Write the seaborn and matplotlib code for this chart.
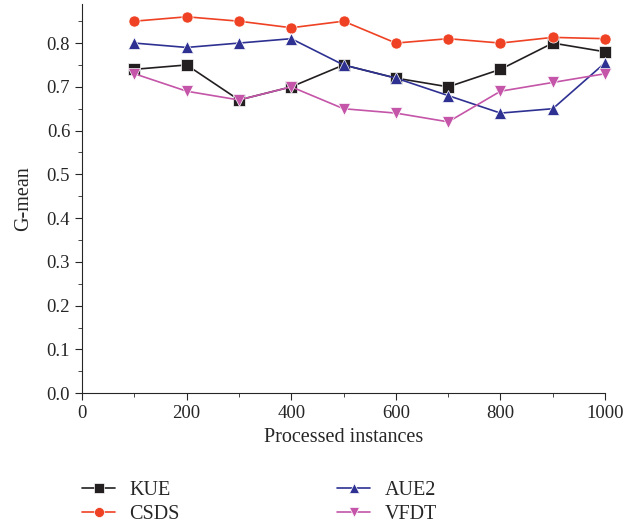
import pandas as pd
import seaborn as sns
import matplotlib.pyplot as plt

# Datos
instancias = [100, 200, 300, 400, 500, 600, 700, 800, 900, 1000]
kue = [0.74, 0.75, 0.67, 0.70, 0.75, 0.72, 0.70, 0.74, 0.80, 0.78]
csds = [0.85, 0.86, 0.85, 0.835, 0.85, 0.80, 0.81, 0.80, 0.813, 0.81]
aue2 = [0.80, 0.79, 0.80, 0.81, 0.75, 0.72, 0.68, 0.64, 0.65, 0.755]
vfdt = [0.73, 0.69, 0.67, 0.70, 0.65, 0.64, 0.62, 0.69, 0.71, 0.73]
metodos = ['KUE', 'CSDS', 'AUE2', 'VFDT']

df = pd.DataFrame({
    'Processed instances': instancias * 4,
    'G-mean': kue + csds + aue2 + vfdt,
    'Metodo': [m for m in metodos for _ in instancias],
})

sns.set_style("ticks")
plt.rcParams['font.family'] = ['Liberation Serif', 'DejaVu Serif']

colores = {'KUE': '#231F20', 'CSDS': '#EF4123', 'AUE2': '#2E3192', 'VFDT': '#C455A8'}
marcadores = {'KUE': 's', 'CSDS': 'o', 'AUE2': '^', 'VFDT': 'v'}

fig = plt.figure(figsize=(6.41, 5.25), dpi=100)
ax = fig.add_axes([0.128, 0.251, 0.816, 0.742])
sns.lineplot(
    data=df, x='Processed instances', y='G-mean',
    hue='Metodo', style='Metodo', hue_order=metodos, style_order=metodos,
    palette=colores, markers=marcadores, dashes=False,
    markersize=8, markeredgewidth=0.5, linewidth=1.2, clip_on=False, ax=ax
)

ax.set_xlim(0, 1000)
ax.set_ylim(0, 0.89)
ax.set_xticks(range(0, 1001, 200))
ax.set_xticks(range(100, 1000, 200), minor=True)
ax.set_yticks([i / 10 for i in range(9)])
ax.set_yticks([i / 20 for i in range(1, 18, 2)], minor=True)
ax.yaxis.set_major_formatter(plt.FormatStrFormatter('%.1f'))
ax.tick_params(axis='both', which='major', direction='out', length=5, labelsize=13.5)
ax.tick_params(axis='both', which='minor', direction='out', length=3)
ax.set_xlabel('Processed instances', fontsize=14.5)
ax.set_ylabel('G-mean', fontsize=14.5, labelpad=10)
sns.despine(ax=ax)

handles, labels = ax.get_legend_handles_labels()
ax.get_legend().remove()
fig.legend(
    handles, labels, ncol=2, loc='upper left', bbox_to_anchor=(0.1, 0.118),
    frameon=False, fontsize=14.5, handlelength=1.65, handletextpad=0.7,
    columnspacing=7.8, labelspacing=0.25, markerscale=0.9
)

fig.savefig('out.png', dpi=100)
